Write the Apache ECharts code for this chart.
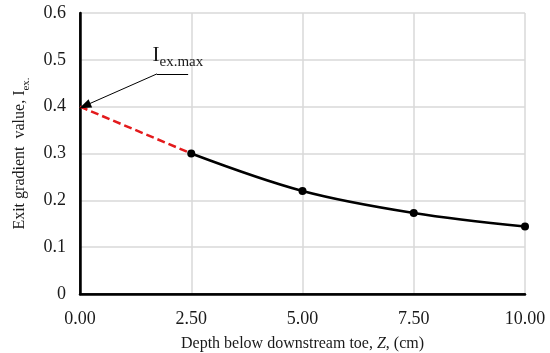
<!DOCTYPE html>
<html><head><meta charset="utf-8">
<script src="https://cdn.jsdelivr.net/npm/echarts@6/dist/echarts.min.js"></script>
<style>html,body{margin:0;padding:0;background:#fff}#c{width:550px;height:353px}</style>
</head><body><div id="c"></div>
<script>
const depth = [2.5, 5.0, 7.5, 10.0];
const gradient = [0.300, 0.220, 0.173, 0.144];
const extrapDepth = [0, 2.5];
const extrapGradient = [0.400, 0.300];
const xTicks = [0, 2.5, 5, 7.5, 10];
const yTicks = [0, 0.1, 0.2, 0.3, 0.4, 0.5, 0.6];
const annotArrow = [[1.73, 0.470], [0.11, 0.402]];
const annotShelf = [[1.73, 0.470], [2.43, 0.470]];
const annotText = [1.63, 0.509];

const F = '"Liberation Serif","Times New Roman",serif';
const C = '#1a1a1a';
const frameAxis = {show: true, lineStyle: {color: '#000', width: 1.5}};
const chart = echarts.init(document.getElementById('c'));
chart.setOption({
  animation: false,
  backgroundColor: '#fff',
  grid: {left: 80, right: 25, top: 13, bottom: 59, containLabel: false, outerBoundsMode: 'none'},
  xAxis: [{
    type: 'value', min: xTicks[0], max: xTicks[xTicks.length-1], interval: 2.5,
    axisLine: {show: true, onZero: false, lineStyle: {color: '#000', width: 2.5}},
    axisTick: {show: false},
    splitLine: {lineStyle: {color: '#d9d9d9', width: 1.5}},
    axisLabel: {formatter: v => v.toFixed(2), fontFamily: F, fontSize: 18, color: C, margin: 16},
    name: '{a|Depth below downstream toe, }{i|Z}{a|, (cm)}',
    nameLocation: 'middle', nameGap: 42,
    nameTextStyle: {rich: {a: {fontFamily: F, fontSize: 16, color: C}, i: {fontFamily: F, fontSize: 16, fontStyle: 'italic', color: C}}}
  }, {
    type: 'value', position: 'top', min: 0, max: 10, interval: 2.5,
    axisLine: frameAxis, axisTick: {show: false}, axisLabel: {show: false}, splitLine: {show: false}
  }],
  yAxis: [{
    type: 'value', min: yTicks[0], max: yTicks[yTicks.length-1], interval: 0.1,
    axisLine: {show: true, onZero: false, lineStyle: {color: '#000', width: 2.5}},
    axisTick: {show: false},
    splitLine: {lineStyle: {color: '#d9d9d9', width: 1.5}},
    axisLabel: {formatter: v => (Math.round(v*10)/10).toString(), fontFamily: F, fontSize: 18, color: C, margin: 14},
    name: '{a|Exit gradient  value, I}{s|ex.}',
    nameLocation: 'middle', nameGap: 52, nameRotate: 90,
    nameTextStyle: {rich: {a: {fontFamily: F, fontSize: 16, color: C}, s: {fontFamily: F, fontSize: 11, color: C, verticalAlign: 'bottom', padding: [0,0,-4,0]}}}
  }, {
    type: 'value', position: 'right', min: 0, max: 0.6, interval: 0.1,
    axisLine: frameAxis, axisTick: {show: false}, axisLabel: {show: false}, splitLine: {show: false}
  }],
  series: [
    {
      type: 'line', data: extrapDepth.map((d, i) => [d, extrapGradient[i]]),
      showSymbol: false, symbol: 'none',
      lineStyle: {color: '#e31a1c', width: 2.5, type: [8, 4]}, z: 2
    },
    {
      type: 'line', data: depth.map((d, i) => [d, gradient[i]]),
      smooth: 0.35, symbol: 'circle', symbolSize: 8,
      itemStyle: {color: '#000'}, lineStyle: {color: '#000', width: 2.5}, z: 3,
      markLine: {
        silent: true, animation: false,
        lineStyle: {color: '#000', width: 1, type: 'solid'},
        label: {show: false},
        data: [
          [{coord: annotArrow[0], symbol: 'none'}, {coord: annotArrow[1], symbol: 'triangle', symbolSize: [9, 12]}],
          [{coord: annotShelf[0], symbol: 'none'}, {coord: annotShelf[1], symbol: 'none'}]
        ]
      }
    }
  ]
});
const p = chart.convertToPixel({xAxisIndex: 0, yAxisIndex: 0}, annotText);
chart.setOption({graphic: [{
  type: 'text', x: p[0], y: p[1],
  style: {
    text: '{a|I}{s|ex.max}',
    rich: {a: {fontFamily: F, fontSize: 21, fill: C}, s: {fontFamily: F, fontSize: 15, fill: C, verticalAlign: 'bottom', padding: [0,0,-3,0]}},
    verticalAlign: 'middle', align: 'left'
  }
}]});
</script></body></html>
